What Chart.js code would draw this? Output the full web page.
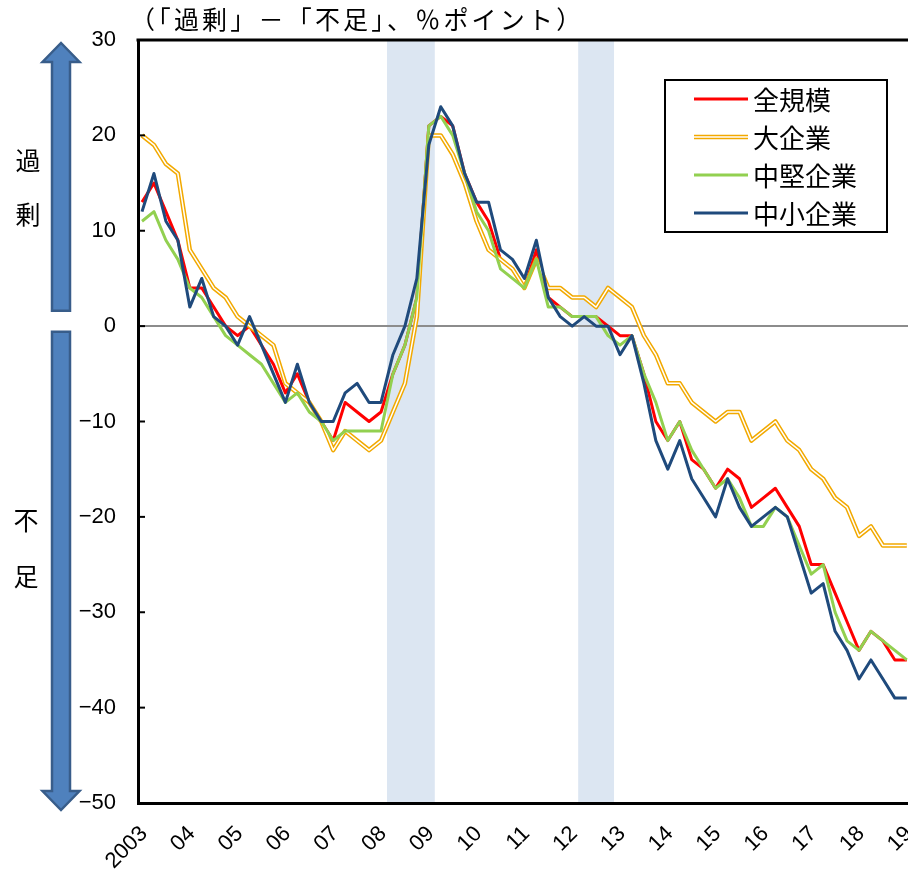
<!DOCTYPE html>
<html>
<head>
<meta charset="utf-8">
<script src="https://cdn.jsdelivr.net/npm/chart.js@4.4.1/dist/chart.umd.min.js"></script>
<style>
  html, body { margin: 0; padding: 0; background: #fff; overflow: hidden; }
</style>
</head>
<body>
<canvas id="chart" width="908" height="874"></canvas>
<script>
// 雇用人員判断DI（「過剰」－「不足」）、2003年1Q～2019年1Q
const yearLabels = ['2003','04','05','06','07','08','09','10','11','12','13','14','15','16','17','18','19'];
const firstYear = 2003;

const allSizes = [13,15,12,9,4,4,2,0,-1,0, -2,-4,-7,-5,-8,-10,-12,-8,-9,-10,
  -9,-5,-2,3,21,22,21,16,13,11, 7,6,4,8,3,2,1,1,1,0,
  -1,-1,-5,-10,-12,-10,-14,-15,-17,-15, -16,-19,-18,-17,-19,-21,-25,-25,-28,-31,
  -34,-32,-33,-35,-35];
const large = [20,19,17,16,8,6,4,3,1,0, -1,-2,-6,-7,-8,-10,-13,-11,-12,-13,
  -12,-9,-6,1,20,20,18,15,11,8, 7,6,4,7,4,4,3,3,2,4,
  3,2,-1,-3,-6,-6,-8,-9,-10,-9, -9,-12,-11,-10,-12,-13,-15,-16,-18,-19,
  -22,-21,-23,-23,-23];
const midSize = [11,12,9,7,4,3,1,-1,-2,-3, -4,-6,-8,-7,-9,-10,-12,-11,-11,-11,
  -11,-5,-2,3,21,22,20,16,12,10, 6,5,4,7,2,2,1,1,1,-1,
  -2,-1,-5,-8,-12,-10,-13,-15,-17,-16, -18,-21,-21,-19,-20,-23,-26,-25,-30,-33,
  -34,-32,-33,-34,-35];
const small = [12,16,11,9,2,5,1,0,-2,1, -2,-5,-8,-4,-8,-10,-10,-7,-6,-8,
  -8,-3,0,5,19,23,21,16,13,13, 8,7,5,9,3,1,0,1,0,0,
  -3,-1,-6,-12,-15,-12,-16,-18,-20,-16, -19,-21,-20,-19,-20,-24,-28,-27,-32,-34,
  -37,-35,-37,-39,-39];

const seriesNames = ['全規模', '大企業', '中堅企業', '中小企業'];
const recessionStart = ['2008Q2', '2012Q2'];
const recessionEnd = ['2009Q1', '2012Q4'];

const RED = '#ff0000', ORANGE = '#f2a900', GREEN = '#92d050', NAVY = '#1f4a7c';
const JP = '"Noto Sans CJK JP", "Noto Sans", sans-serif';

function quarterIndex(q) {
  const [y, n] = q.split('Q').map(Number);
  return (y - firstYear) * 4 + (n - 1);
}
function pts(arr) {
  return arr.map((v, i) => ({ x: i, y: v }));
}
function lineDs(label, arr, color, width, order) {
  return {
    label, data: pts(arr), borderColor: color, borderWidth: width,
    pointRadius: 0, tension: 0, fill: false, order,
    borderJoinStyle: 'round'
  };
}

function drawArrow(ctx, cx, yStart, yTip) {
  const dir = yTip < yStart ? -1 : 1;
  const shaft = 9, head = 18.5, headLen = 19;
  const yBase = yTip - dir * headLen;
  ctx.beginPath();
  ctx.moveTo(cx - shaft, yStart);
  ctx.lineTo(cx - shaft, yBase);
  ctx.lineTo(cx - head, yBase);
  ctx.lineTo(cx, yTip);
  ctx.lineTo(cx + head, yBase);
  ctx.lineTo(cx + shaft, yBase);
  ctx.lineTo(cx + shaft, yStart);
  ctx.closePath();
  ctx.fillStyle = '#4f81bd';
  ctx.fill();
  ctx.lineWidth = 2.5;
  ctx.strokeStyle = '#385d8a';
  ctx.stroke();
}

const decor = {
  id: 'decor',
  beforeDraw(chart) {
    const { ctx, chartArea: a, scales: { x } } = chart;
    ctx.save();
    ctx.fillStyle = '#dce6f2';
    recessionStart.forEach((s, i) => {
      const x0 = x.getPixelForValue(quarterIndex(s) - 0.5);
      const x1 = x.getPixelForValue(quarterIndex(recessionEnd[i]) + 0.5);
      ctx.fillRect(x0, a.top, x1 - x0, a.bottom - a.top);
    });
    ctx.restore();
  },
  afterDraw(chart) {
    const { ctx, chartArea: a, scales: { y } } = chart;
    ctx.save();

    // top frame line
    ctx.strokeStyle = '#000';
    ctx.lineWidth = 3;
    ctx.beginPath();
    ctx.moveTo(a.left - 1.5, a.top);
    ctx.lineTo(a.right + 2, a.top);
    ctx.stroke();

    // inner tick marks
    ctx.lineWidth = 2;
    y.ticks.forEach(t => {
      const py = y.getPixelForValue(t.value);
      ctx.beginPath();
      ctx.moveTo(a.left, py);
      ctx.lineTo(a.left + 7, py);
      ctx.stroke();
    });

    // unit title
    ctx.fillStyle = '#000';
    ctx.font = '25px ' + JP;
    ctx.textBaseline = 'middle';
    ctx.textAlign = 'left';
    ctx.letterSpacing = '3.2px';
    ctx.fillText('（「過剰」－「不足」、％ポイント）', 130, 19);
    ctx.letterSpacing = '0px';

    // arrows on the left
    drawArrow(ctx, 61, y.getPixelForValue(1.6), y.getPixelForValue(30) + 3);
    drawArrow(ctx, 61, y.getPixelForValue(-0.6), y.getPixelForValue(-50) + 7);
    ctx.fillStyle = '#000';
    ctx.font = '25px ' + JP;
    ctx.textAlign = 'center';
    ctx.fillText('過', 28, 160);
    ctx.fillText('剰', 28, 214);
    ctx.fillText('不', 26, 520);
    ctx.fillText('足', 26, 576);

    // legend
    ctx.lineWidth = 2;
    ctx.strokeStyle = '#000';
    ctx.strokeRect(665, 80, 222, 152);
    const colors = [RED, ORANGE, GREEN, NAVY];
    ctx.font = '26px ' + JP;
    seriesNames.forEach((name, i) => {
      const ly = 99 + i * 38;
      ctx.beginPath();
      ctx.moveTo(694, ly);
      ctx.lineTo(748, ly);
      ctx.strokeStyle = colors[i];
      ctx.lineWidth = i === 1 ? 4.5 : 3;
      ctx.stroke();
      if (i === 1) {
        ctx.beginPath();
        ctx.moveTo(694, ly);
        ctx.lineTo(748, ly);
        ctx.strokeStyle = '#fff';
        ctx.lineWidth = 1.5;
        ctx.stroke();
      }
      ctx.fillStyle = '#000';
      ctx.textAlign = 'left';
      ctx.fillText(name, 753, ly + 1);
    });
    ctx.restore();
  }
};

Chart.defaults.font.family = '"Liberation Sans", Arial, sans-serif';
Chart.defaults.color = '#000';

new Chart(document.getElementById('chart'), {
  type: 'line',
  data: {
    datasets: [
      lineDs(seriesNames[3], small, NAVY, 3, 1),
      lineDs(seriesNames[2], midSize, GREEN, 3, 2),
      lineDs(seriesNames[1] + '_inner', large, '#ffffff', 1.5, 3),
      lineDs(seriesNames[1], large, ORANGE, 4.5, 4),
      lineDs(seriesNames[0], allSizes, RED, 3, 5)
    ]
  },
  options: {
    responsive: false,
    animation: false,
    events: [],
    layout: { padding: { top: 40, right: 0, bottom: 0, left: 0 } },
    plugins: { legend: { display: false }, tooltip: { enabled: false } },
    scales: {
      x: {
        type: 'linear',
        min: -0.335,
        max: 64.1,
        grid: { display: false, drawTicks: false },
        border: { color: '#000', width: 3 },
        afterBuildTicks: s => { s.ticks = yearLabels.map((_, i) => ({ value: i * 4 })); },
        afterFit: s => { s.height = 71; s.paddingLeft = 0; s.paddingRight = 0; },
        ticks: {
          autoSkip: false,
          minRotation: 45,
          maxRotation: 45,
          padding: 18,
          labelOffset: 2,
          font: { size: 22 },
          callback: v => yearLabels[Math.round(v / 4)]
        }
      },
      y: {
        min: -50,
        max: 30,
        grid: {
          drawTicks: false,
          lineWidth: 2,
          color: c => (c.tick && c.tick.value === 0 ? '#8c8c8c' : 'rgba(0,0,0,0)')
        },
        border: { color: '#000', width: 3 },
        afterFit: s => { s.width = 138; },
        ticks: {
          stepSize: 10,
          padding: 22,
          font: { size: 22 },
          callback: v => (v < 0 ? '\u2212' + Math.abs(v) : String(v))
        }
      }
    }
  },
  plugins: [decor]
});
</script>
</body>
</html>
